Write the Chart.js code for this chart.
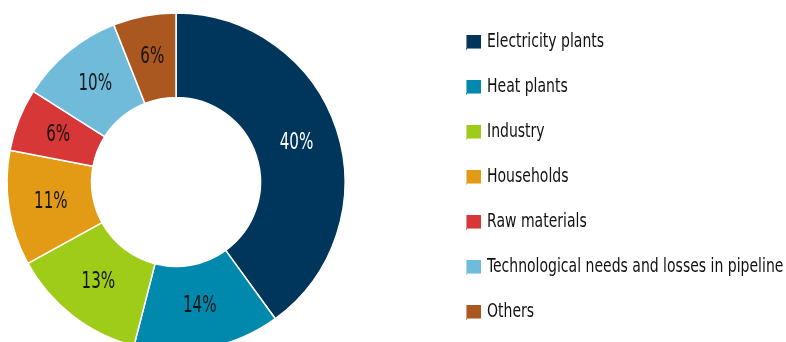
<!DOCTYPE html>
<html>
<head>
<meta charset="utf-8">
<script src="https://cdn.jsdelivr.net/npm/chart.js@4"></script>
<style>
html, body { margin: 0; padding: 0; background: #fff; overflow: hidden; }
#wrap { position: relative; width: 786px; height: 364px; }
</style>
</head>
<body>
<div id="wrap"><canvas id="myChart"></canvas></div>
<script>
'use strict';

let sectorNames = ['Electricity plants', 'Heat plants', 'Industry', 'Households', 'Raw materials', 'Technological needs and losses in pipeline', 'Others'];
let sectorShares = [40, 14, 13, 11, 6, 10, 6];
let shareLabels = ['40%', '14%', '13%', '11%', '6%', '10%', '6%'];
let sectorColors = ['#00365b', '#0089ad', '#9ecc18', '#e39a14', '#d73737', '#70bbd9', '#ab5720'];

let fontName = "'DejaVu Sans Condensed', 'DejaVu Sans', sans-serif";

// writes the percent in the middle of every slice (squeezed, the original font is narrow)
let sliceLabels = {
    id: 'sliceLabels',
    afterDatasetsDraw(chart) {
        let ctx = chart.ctx;
        let arcs = chart.getDatasetMeta(0).data;
        ctx.save();
        ctx.font = '23px ' + fontName;
        ctx.textAlign = 'center';
        ctx.textBaseline = 'middle';
        for (let i = 0; i < arcs.length; i++) {
            let pos = arcs[i].tooltipPosition();
            ctx.save();
            ctx.translate(pos.x, pos.y);
            ctx.scale(0.73, 1);
            ctx.fillStyle = i === 0 ? '#ffffff' : '#141414';
            ctx.fillText(shareLabels[i], 0, 0);
            ctx.restore();
        }
        ctx.restore();
    }
};

// legend on the right, one row every 45px
let sideLegend = {
    id: 'sideLegend',
    afterDraw(chart) {
        let ctx = chart.ctx;
        let names = chart.data.labels;
        let colors = chart.data.datasets[0].backgroundColor;
        ctx.save();
        ctx.font = '19px ' + fontName;
        ctx.textAlign = 'left';
        ctx.textBaseline = 'middle';
        for (let i = 0; i < names.length; i++) {
            let y = 42 + 45 * i;
            ctx.fillStyle = colors[i];
            ctx.fillRect(467, y - 7, 14, 13);
            ctx.globalAlpha = 0.55;
            ctx.fillRect(466, y - 7, 1, 15);
            ctx.fillRect(466, y + 6, 15, 1);
            ctx.globalAlpha = 1;
            ctx.save();
            ctx.translate(487, y);
            ctx.scale(0.82, 1);
            ctx.fillStyle = '#111111';
            ctx.fillText(names[i], 0, 0);
            ctx.restore();
        }
        ctx.restore();
    }
};

let ctx = document.getElementById('myChart').getContext('2d');
let chart = new Chart(ctx, {
    type: 'doughnut',
    data: {
        labels: sectorNames,
        datasets: [{
            data: sectorShares,
            backgroundColor: sectorColors,
            borderColor: '#ffffff',
            borderWidth: 1.5,
            radius: 169,
            cutout: '50%'
        }]
    },
    options: {
        responsive: true,
        maintainAspectRatio: false,
        animation: false,
        layout: {
            padding: { left: 0, right: 434, top: 0, bottom: 0 }
        },
        plugins: {
            legend: { display: false },
            tooltip: { enabled: false }
        }
    },
    plugins: [sliceLabels, sideLegend]
});
</script>
</body>
</html>
